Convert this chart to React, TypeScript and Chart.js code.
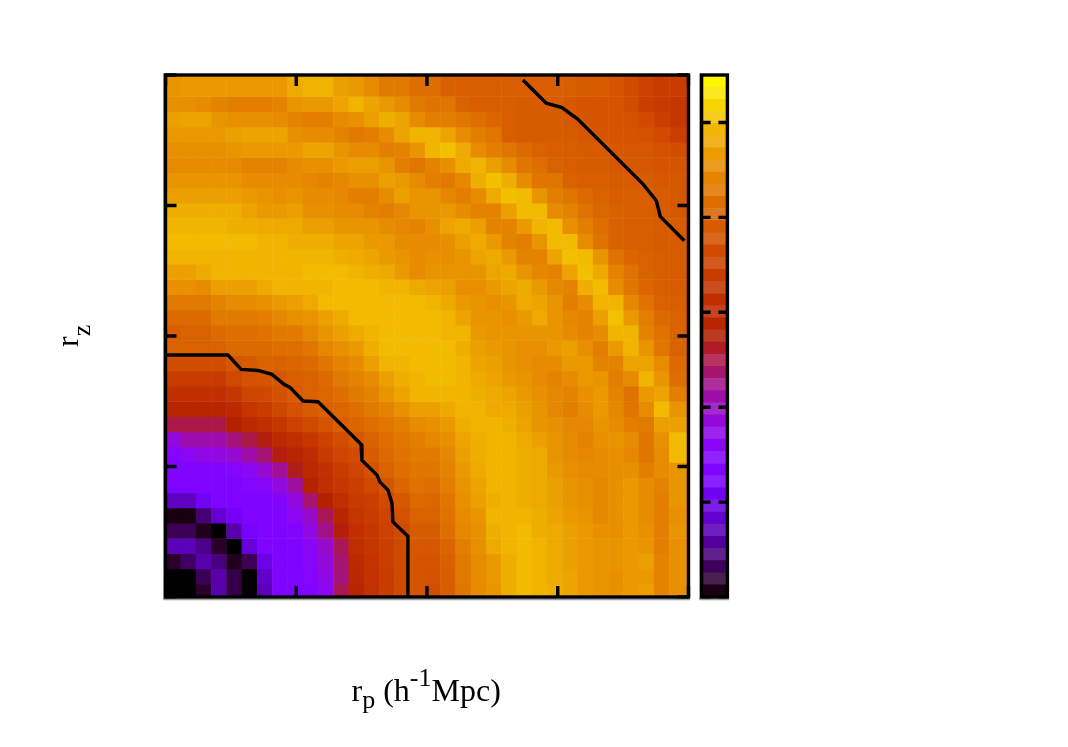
import React, { useEffect, useRef } from "react";
import { Chart, registerables } from "chart.js";

Chart.register(...registerables);

const FONT = '"Liberation Serif", "Times New Roman", serif';
const BLACK = "#000000";

const axisTicks = { min: 0, max: 20, step: 5 };
const colorTicks = { min: 0, max: 1.1, step: 0.2 };
const colorBandCount = 43;
const cellSize = 0.584;
const firstRowTop = 0.486;

// grid values, bottom row first
const zRows: number[][] = [
  [0, 0, .03, .13, .05, 0, .14, .27, .27, .28, .33, .49, .58, .63, .68, .72, .76, .74, .79, .85, .90, .92, .97, .99, .98, .97, .95, .93, .92, .91, .93, .94, .88, .91, .91],
  [0, 0, .06, .13, .05, 0, .16, .27, .27, .30, .35, .46, .59, .64, .68, .72, .76, .75, .79, .86, .90, .93, .97, .99, .98, .96, .95, .93, .92, .91, .93, .93, .88, .91, .91],
  [.03, .07, .13, .09, .02, .06, .20, .27, .27, .31, .37, .47, .60, .64, .69, .72, .76, .76, .80, .86, .90, .93, .97, .99, .98, .96, .94, .93, .92, .92, .93, .94, .88, .91, .91],
  [.14, .14, .10, .03, 0, .18, .27, .27, .27, .32, .39, .49, .62, .65, .69, .72, .77, .77, .81, .87, .91, .96, .98, .99, .98, .96, .94, .93, .92, .92, .93, .92, .87, .91, .91],
  [.06, .06, .02, 0, .13, .24, .27, .27, .28, .36, .45, .54, .63, .66, .70, .73, .78, .78, .83, .89, .91, .97, .98, .99, .97, .96, .94, .93, .91, .91, .93, .91, .87, .92, .92],
  [.01, .01, .08, .17, .23, .27, .27, .28, .33, .39, .49, .58, .65, .68, .71, .75, .80, .80, .84, .90, .92, .98, .98, .98, .97, .95, .93, .92, .89, .91, .93, .90, .87, .91, .91],
  [.15, .15, .22, .27, .27, .27, .27, .30, .36, .47, .55, .62, .67, .69, .73, .77, .82, .81, .85, .91, .94, .97, .98, .97, .96, .94, .92, .91, .89, .91, .93, .90, .87, .92, .92],
  [.27, .27, .27, .27, .27, .29, .31, .36, .43, .56, .62, .66, .69, .72, .76, .81, .84, .83, .87, .92, .95, .98, .98, .97, .96, .94, .92, .91, .89, .91, .93, .90, .88, .92, .92],
  [.28, .28, .28, .28, .30, .33, .38, .44, .53, .60, .63, .68, .71, .75, .80, .83, .85, .85, .88, .93, .96, .98, .98, .97, .96, .93, .91, .90, .90, .91, .91, .87, .90, .92, .92],
  [.30, .33, .35, .36, .38, .42, .47, .54, .58, .61, .67, .71, .73, .78, .82, .84, .86, .86, .89, .94, .97, .98, .98, .97, .96, .92, .90, .89, .90, .91, .89, .85, .90, .99, .99],
  [.36, .42, .42, .42, .46, .50, .54, .60, .62, .66, .70, .74, .77, .80, .83, .85, .87, .89, .91, .95, .97, .98, .98, .96, .94, .92, .90, .88, .91, .92, .90, .85, .91, .99, .99],
  [.50, .50, .50, .50, .55, .60, .62, .66, .70, .73, .76, .79, .81, .83, .85, .87, .90, .91, .93, .97, .98, .98, .97, .95, .92, .91, .89, .89, .92, .90, .87, .86, .94, .94, .94],
  [.58, .58, .58, .58, .60, .65, .68, .72, .75, .78, .80, .81, .83, .86, .88, .91, .94, .94, .96, .98, .98, .96, .96, .94, .92, .89, .87, .90, .93, .89, .85, .90, .99, .92, .92],
  [.63, .63, .63, .63, .66, .71, .72, .75, .78, .80, .81, .83, .86, .88, .92, .95, .98, .98, .98, .98, .97, .96, .95, .93, .91, .89, .88, .91, .93, .88, .84, .93, .95, .87, .87],
  [.68, .68, .68, .67, .72, .75, .76, .77, .79, .80, .82, .86, .88, .90, .94, .97, .98, .99, .99, .98, .96, .95, .93, .92, .90, .88, .90, .93, .92, .87, .90, .98, .92, .83, .83],
  [.74, .74, .74, .74, .77, .78, .80, .80, .81, .82, .85, .88, .90, .94, .98, .98, .99, .99, .99, .98, .95, .94, .92, .91, .90, .90, .93, .93, .88, .88, .95, .95, .90, .82, .82],
  [.80, .80, .80, .80, .82, .82, .82, .83, .83, .85, .89, .91, .93, .97, .99, .99, .99, .99, .99, .97, .94, .93, .92, .91, .91, .93, .94, .91, .87, .93, .98, .92, .85, .80, .80],
  [.79, .80, .80, .82, .83, .83, .84, .86, .86, .89, .92, .94, .96, .98, .99, .99, .99, .99, .98, .98, .93, .92, .92, .92, .92, .92, .90, .88, .90, .98, .98, .88, .84, .80, .79],
  [.82, .82, .82, .86, .86, .86, .87, .89, .91, .92, .94, .96, .99, .99, .99, .99, .99, .99, .98, .95, .92, .92, .91, .93, .96, .92, .89, .88, .94, 1.0, .93, .87, .82, .80, .79],
  [.86, .86, .86, .88, .90, .90, .91, .93, .94, .96, .99, .99, .99, .99, .99, .99, .99, .98, .96, .93, .92, .91, .92, .96, .95, .92, .87, .90, .98, .98, .89, .84, .80, .79, .78],
  [.91, .91, .90, .94, .94, .94, .96, .98, .98, .98, .98, .99, .99, .99, .98, .98, .96, .95, .94, .91, .91, .93, .95, .96, .93, .89, .88, .97, .99, .90, .85, .81, .79, .78, .78],
  [.94, .94, .96, .98, .98, .98, .98, .98, .98, .99, .99, .99, .98, .97, .96, .93, .90, .92, .92, .92, .92, .95, .96, .92, .89, .88, .95, 1.0, .96, .88, .84, .80, .79, .78, .78],
  [.98, .98, .98, .98, .98, .98, .98, .98, .98, .98, .98, .97, .96, .95, .93, .92, .90, .91, .91, .92, .95, .96, .93, .88, .88, .95, 1.0, .99, .92, .84, .81, .80, .79, .78, .78],
  [.99, .99, .99, .99, .99, .99, .98, .98, .97, .97, .97, .95, .95, .93, .93, .90, .90, .90, .91, .94, .96, .93, .88, .87, .92, .99, .99, .90, .84, .80, .79, .79, .78, .78, .78],
  [.98, .98, .98, .98, .97, .97, .96, .96, .96, .94, .94, .92, .92, .92, .90, .89, .88, .91, .95, .96, .94, .88, .88, .93, .98, .99, .91, .87, .83, .80, .79, .79, .78, .78, .78],
  [.97, .97, .97, .97, .97, .95, .93, .93, .94, .91, .91, .90, .90, .88, .87, .89, .92, .92, .93, .90, .88, .88, .94, .99, .99, .90, .88, .84, .81, .80, .79, .79, .78, .77, .77],
  [.94, .94, .94, .94, .94, .93, .92, .91, .92, .90, .90, .89, .87, .87, .90, .94, .92, .92, .89, .87, .90, .96, 1.0, .99, .92, .87, .85, .82, .80, .79, .79, .79, .78, .77, .77],
  [.92, .92, .92, .92, .92, .90, .90, .90, .90, .89, .88, .89, .91, .91, .94, .93, .90, .87, .86, .89, .97, 1.0, .97, .90, .85, .85, .80, .79, .79, .78, .78, .78, .77, .77, .77],
  [.90, .90, .90, .90, .90, .88, .88, .88, .90, .91, .91, .93, .94, .94, .92, .87, .85, .88, .91, .96, .98, .94, .90, .85, .83, .80, .79, .78, .78, .77, .77, .77, .76, .76, .76],
  [.91, .91, .91, .91, .92, .93, .93, .93, .93, .95, .95, .92, .90, .90, .87, .88, .92, .98, 1.0, .96, .90, .87, .85, .82, .80, .79, .79, .78, .78, .77, .77, .77, .75, .74, .74],
  [.93, .93, .93, .93, .94, .95, .95, .95, .91, .90, .90, .88, .86, .87, .90, .95, .98, .98, .95, .90, .87, .85, .79, .78, .78, .78, .78, .77, .76, .76, .76, .75, .73, .69, .69],
  [.94, .95, .95, .92, .91, .91, .91, .90, .88, .87, .87, .90, .91, .94, .97, .95, .90, .87, .87, .85, .83, .81, .79, .78, .78, .78, .77, .76, .76, .76, .75, .73, .69, .66, .66],
  [.91, .91, .90, .88, .87, .87, .87, .88, .92, .93, .93, .95, .98, .95, .93, .90, .86, .84, .85, .80, .79, .79, .79, .78, .78, .78, .77, .76, .76, .76, .74, .69, .67, .66, .66],
  [.92, .93, .93, .93, .93, .93, .93, .93, .96, .98, .98, .94, .93, .90, .86, .86, .83, .83, .80, .79, .79, .79, .79, .79, .79, .79, .79, .78, .78, .76, .73, .70, .68, .68, .68],
  [.92, .93, .93, .93, .93, .93, .93, .93, .96, .98, .98, .94, .93, .90, .86, .86, .83, .83, .80, .79, .79, .79, .79, .79, .79, .79, .79, .78, .78, .76, .73, .70, .68, .68, .68],
];

// contour polylines, in axis units
const innerContourX = [0, 2.39, 2.89, 3.54, 4.07, 4.53, 4.76, 5.26, 5.83, 7.48, 7.51, 8.09, 8.20, 8.51, 8.66, 8.70, 9.27, 9.27];
const innerContourY = [9.27, 9.27, 8.72, 8.68, 8.53, 8.15, 8.03, 7.51, 7.48, 5.85, 5.24, 4.67, 4.40, 4.09, 3.59, 2.87, 2.33, 0];
const outerContourX = [13.67, 14.56, 15.16, 15.76, 18.26, 18.77, 18.92, 19.84];
const outerContourY = [19.81, 18.92, 18.75, 18.31, 15.82, 15.18, 14.58, 13.65];

function paletteRgb(v: number): [number, number, number] {
  const t = Math.min(1, Math.max(0, v / colorTicks.max));
  const r = Math.sqrt(t);
  const g = t * t * t;
  const b = Math.max(0, Math.sin(2 * Math.PI * t));
  return [Math.round(r * 255), Math.round(g * 255), Math.round(b * 255)];
}
const rgb = (c: number[]) => `rgb(${c[0]},${c[1]},${c[2]})`;

function pairs(xs: number[], ys: number[]) {
  return xs.map((x, i) => ({ x, y: ys[i] }));
}

function drawFrame(ctx: CanvasRenderingContext2D, a: { left: number; right: number; top: number; bottom: number }) {
  ctx.save();
  ctx.strokeStyle = "#a0a0a0";
  ctx.lineWidth = 1.6;
  ctx.beginPath();
  ctx.moveTo(a.left - 1.6, a.top - 1.6);
  ctx.lineTo(a.left - 1.6, a.bottom + 2.4);
  ctx.lineTo(a.right + 1.6, a.bottom + 2.4);
  ctx.stroke();
  ctx.strokeStyle = BLACK;
  ctx.lineWidth = 3.4;
  ctx.lineJoin = "miter";
  ctx.strokeRect(a.left, a.top, a.right - a.left, a.bottom - a.top);
  ctx.restore();
}

const mainDecor = {
  id: "mainDecor",
  afterDatasetsDraw(chart: any) {
    const { ctx, chartArea: a, scales } = chart;
    ctx.save();
    ctx.strokeStyle = BLACK;
    ctx.lineWidth = 3.4;
    const len = 11;
    scales.x.ticks.forEach((t: any) => {
      const p = scales.x.getPixelForValue(t.value);
      ctx.beginPath();
      ctx.moveTo(p, a.bottom);
      ctx.lineTo(p, a.bottom - len);
      ctx.moveTo(p, a.top);
      ctx.lineTo(p, a.top + len);
      ctx.stroke();
    });
    scales.y.ticks.forEach((t: any) => {
      const p = scales.y.getPixelForValue(t.value);
      ctx.beginPath();
      ctx.moveTo(a.left, p);
      ctx.lineTo(a.left + len, p);
      ctx.moveTo(a.right, p);
      ctx.lineTo(a.right - len, p);
      ctx.stroke();
    });
    ctx.restore();
    drawFrame(ctx, a);

    ctx.save();
    ctx.fillStyle = BLACK;
    ctx.textBaseline = "alphabetic";
    ctx.textAlign = "left";
    const big = `32px ${FONT}`;
    const small = `26px ${FONT}`;
    let x = 351.5;
    const pieces: [string, string, number][] = [
      ["r", big, 700.5],
      ["p", small, 708],
      [" (h", big, 700.5],
      ["-1", small, 686],
      ["Mpc)", big, 700.5],
    ];
    pieces.forEach(([s, f, y]) => {
      ctx.font = f;
      ctx.fillText(s, x, y);
      x += ctx.measureText(s).width;
    });
    ctx.translate(78, 347);
    ctx.rotate(-Math.PI / 2);
    ctx.font = big;
    ctx.fillText("r", 0, 0);
    const w = ctx.measureText("r").width;
    ctx.font = small;
    ctx.fillText("z", w, 12);
    ctx.restore();
  },
};

const barDecor = {
  id: "barDecor",
  afterDatasetsDraw(chart: any) {
    const { ctx, chartArea: a, scales } = chart;
    ctx.save();
    ctx.strokeStyle = BLACK;
    ctx.lineWidth = 3.4;
    const len = 9;
    scales.y.ticks.forEach((t: any) => {
      const p = scales.y.getPixelForValue(t.value);
      ctx.beginPath();
      ctx.moveTo(a.left, p);
      ctx.lineTo(a.left + len, p);
      ctx.moveTo(a.right, p);
      ctx.lineTo(a.right - len, p);
      ctx.stroke();
    });
    ctx.restore();
    drawFrame(ctx, a);
  },
};

export default function App() {
  const mainRef = useRef<HTMLCanvasElement>(null);
  const barRef = useRef<HTMLCanvasElement>(null);

  useEffect(() => {
    const cells: { x: number; y: number; v: number }[] = [];
    zRows.forEach((row, i) => {
      row.forEach((v, j) => {
        cells.push({
          x: cellSize * (j + 0.5),
          y: firstRowTop + cellSize * (i - 0.5),
          v,
        });
      });
    });

    const main = new Chart(mainRef.current!, {
      type: "scatter",
      data: {
        datasets: [
          {
            label: "contour inner",
            data: pairs(innerContourX, innerContourY),
            showLine: true,
            borderColor: BLACK,
            borderWidth: 3.4,
            pointRadius: 0,
            tension: 0,
            order: 0,
            clip: 0,
          } as any,
          {
            label: "contour outer",
            data: pairs(outerContourX, outerContourY),
            showLine: true,
            borderColor: BLACK,
            borderWidth: 3.4,
            pointRadius: 0,
            tension: 0,
            order: 0,
            clip: 0,
          } as any,
          {
            label: "cells",
            data: cells,
            showLine: false,
            pointStyle: "rect",
            borderWidth: 0,
            pointBorderWidth: 0,
            pointHoverRadius: 0,
            pointRadius: (c: any) => {
              const sx = c.chart.scales.x;
              const side = sx.getPixelForValue(cellSize) - sx.getPixelForValue(0);
              return (side + 0.5) / Math.SQRT2;
            },
            pointBackgroundColor: (c: any) => rgb(paletteRgb(c.raw ? c.raw.v : 0)),
            order: 1,
            clip: 0,
          } as any,
        ],
      },
      options: {
        responsive: false,
        animation: false,
        events: [],
        layout: { padding: { left: 165.5, right: 379.5, top: 75, bottom: 150 } },
        plugins: { legend: { display: false }, tooltip: { enabled: false } },
        scales: {
          x: {
            type: "linear",
            min: axisTicks.min,
            max: axisTicks.max,
            afterFit: (s: any) => { s.height = 0; },
            grid: { display: false },
            border: { display: false },
            ticks: {
              stepSize: axisTicks.step,
              color: BLACK,
              font: { family: FONT, size: 32 },
              maxRotation: 0,
              padding: 28,
            },
          },
          y: {
            type: "linear",
            min: axisTicks.min,
            max: axisTicks.max,
            afterFit: (s: any) => { s.width = 0; },
            grid: { display: false },
            border: { display: false },
            ticks: {
              stepSize: axisTicks.step,
              color: BLACK,
              font: { family: FONT, size: 32 },
              padding: 25,
            },
          },
        },
      } as any,
      plugins: [mainDecor],
    });

    const bandHeight = colorTicks.max / colorBandCount;
    const bandDatasets = Array.from({ length: colorBandCount }, (_, k) => {
      const c = paletteRgb((k + 0.5) * bandHeight);
      const color = k % 2 === 1 ? c.map((q) => Math.round(q + (255 - q) * 0.12)) : c;
      return {
        label: `band ${k}`,
        data: [bandHeight],
        backgroundColor: rgb(color),
        borderWidth: 0,
        barPercentage: 1,
        categoryPercentage: 1,
        stack: "bar",
      };
    });

    const bar = new Chart(barRef.current!, {
      type: "bar",
      data: { labels: ["palette"], datasets: bandDatasets },
      options: {
        responsive: false,
        animation: false,
        events: [],
        layout: { padding: { left: 701.6, right: 340.6, top: 75, bottom: 150 } },
        plugins: { legend: { display: false }, tooltip: { enabled: false } },
        scales: {
          x: { display: false, stacked: true },
          y: {
            type: "linear",
            position: "right",
            stacked: true,
            min: colorTicks.min,
            max: colorTicks.max,
            afterFit: (s: any) => { s.width = 0; },
            grid: { display: false },
            border: { display: false },
            ticks: {
              stepSize: colorTicks.step,
              includeBounds: false,
              color: BLACK,
              font: { family: FONT, size: 32 },
              padding: 28,
              callback: (v: any) => String(Number(Number(v).toFixed(1))),
            },
          },
        },
      } as any,
      plugins: [barDecor],
    });

    return () => {
      main.destroy();
      bar.destroy();
    };
  }, []);

  const layer: React.CSSProperties = { position: "absolute", left: 0, top: 0 };
  return (
    <div style={{ position: "absolute", left: 0, top: 0, width: 1068, height: 747, background: "#fff", overflow: "hidden" }}>
      <canvas ref={mainRef} width={1068} height={747} style={layer} />
      <canvas ref={barRef} width={1068} height={747} style={layer} />
    </div>
  );
}
